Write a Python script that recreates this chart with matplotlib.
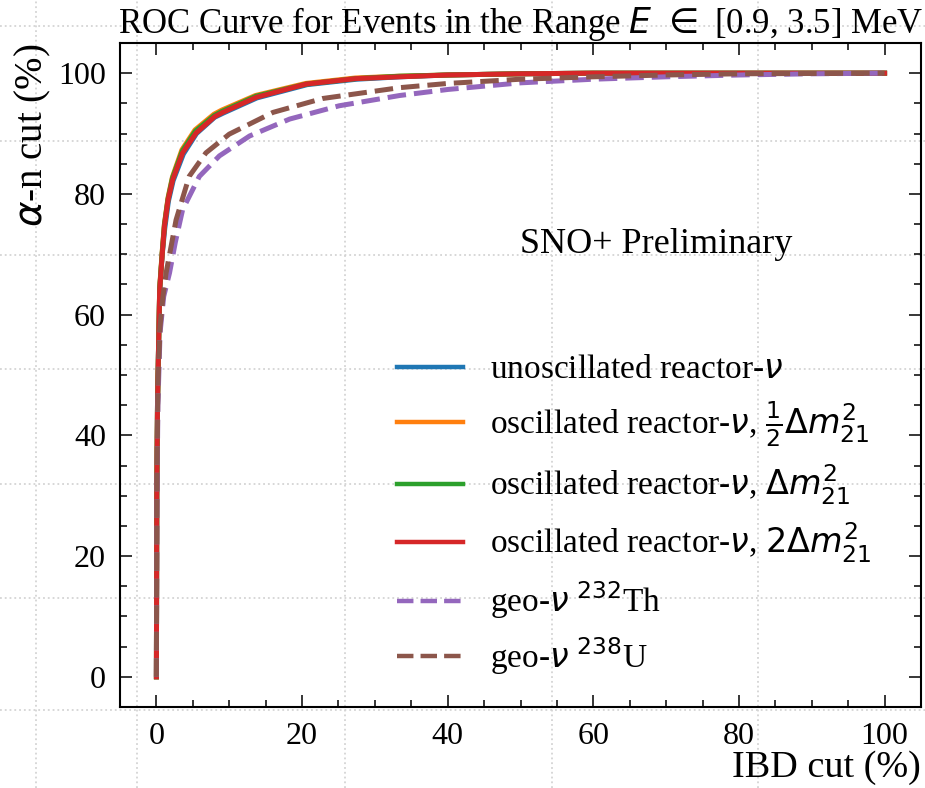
import matplotlib
matplotlib.use('Agg')
import matplotlib.pyplot as plt
import numpy as np

plt.rcParams.update({
    'font.family': 'serif',
    'font.serif': ['Liberation Serif', 'DejaVu Serif'],
    'mathtext.fontset': 'dejavusans',
    'font.size': 23,
    'axes.linewidth': 1.5,
    'xtick.direction': 'in',
    'ytick.direction': 'in',
    'xtick.top': True,
    'ytick.right': True,
    'xtick.minor.visible': True,
    'ytick.minor.visible': True,
    'xtick.major.size': 8.5,
    'ytick.major.size': 8.5,
    'xtick.minor.size': 5,
    'ytick.minor.size': 5,
    'xtick.major.width': 1.1,
    'ytick.major.width': 1.1,
    'xtick.minor.width': 1.1,
    'ytick.minor.width': 1.1,
})

# ── ROC curves (IBD cut %, alpha-n cut %) ─────────────────────
ibd_unosc  = [0, 0.05, 0.15, 0.3, 0.45, 0.8, 1.15, 1.65, 2.3, 3.7, 5.5, 8.0, 9.2, 13.8, 20.7, 27.5, 33.5, 40, 50, 60, 100]
an_unosc   = [0, 30, 45, 55, 64, 70, 74.3, 78.8, 82.2, 86.6, 90.0, 92.7, 93.4, 95.9, 98.1, 99.0, 99.4, 99.7, 99.9, 100, 100]

ibd_half   = [0, 0.05, 0.15, 0.3, 0.45, 0.8, 1.1, 1.6, 2.2, 3.5, 5.3, 7.9, 9.0, 13.6, 20.5, 27.3, 33.3, 40, 50, 60, 100]
an_half    = [0, 30, 45, 55, 64.5, 70.5, 75.0, 79.4, 82.8, 87.3, 90.6, 93.2, 93.9, 96.3, 98.3, 99.2, 99.5, 99.7, 99.9, 100, 100]

ibd_dm     = [0, 0.05, 0.15, 0.3, 0.45, 0.8, 1.1, 1.6, 2.2, 3.55, 5.35, 7.95, 9.05, 13.7, 20.6, 27.4, 33.4, 40, 50, 60, 100]
an_dm      = [0, 30, 45, 55, 64.3, 70.3, 74.9, 79.2, 82.6, 87.1, 90.4, 93.0, 93.7, 96.2, 98.2, 99.1, 99.5, 99.7, 99.9, 100, 100]

ibd_2dm    = [0, 0.05, 0.15, 0.3, 0.45, 0.8, 1.1, 1.6, 2.25, 3.6, 5.45, 8.0, 9.1, 13.7, 20.6, 27.4, 33.4, 40, 50, 60, 100]
an_2dm     = [0, 30, 45, 55, 64.1, 70, 74.6, 79.0, 82.4, 86.8, 90.1, 92.8, 93.5, 96.0, 98.2, 99.1, 99.4, 99.7, 99.9, 100, 100]

ibd_th     = [0, 0.05, 0.2, 0.5, 1.0, 1.8, 2.6, 3.6, 5.9, 8.65, 12.8, 18.3, 25.1, 33.4, 40, 50, 60, 70, 80, 90, 100]
an_th      = [0, 25, 45, 57, 63, 66.9, 72, 77.4, 82.9, 86.3, 89.6, 92.4, 94.6, 96.3, 97.3, 98.4, 99.0, 99.4, 99.7, 99.9, 100]

ibd_u      = [0, 0.05, 0.2, 0.5, 0.9, 1.33, 2.7, 4.5, 6.8, 10.0, 16.0, 22.8, 33.4, 40, 50, 60, 70, 80, 100]
an_u       = [0, 28, 48, 58, 63, 66.9, 75.7, 82.9, 86.8, 89.9, 93.5, 95.8, 97.6, 98.3, 99.0, 99.4, 99.7, 99.9, 100]

labels = [
    r'unoscillated reactor-$\nu$',
    r'oscillated reactor-$\nu$, $\frac{1}{2}\Delta m^2_{21}$',
    r'oscillated reactor-$\nu$, $\Delta m^2_{21}$',
    r'oscillated reactor-$\nu$, $2\Delta m^2_{21}$',
    r'geo-$\nu$ $^{232}$Th',
    r'geo-$\nu$ $^{238}$U',
]
colors = ['#1f77b4', '#ff7f0e', '#2ca02c', '#d62728', '#9467bd', '#8c564b']
styles = ['-', '-', '-', '-', '--', '--']

# light dotted page grid behind the plot (pixel positions)
BG_GRID_X = [36, 137, 345, 552, 758]
BG_GRID_Y = [26, 141, 255, 369, 484, 598, 710]

W, H = 925, 788
fig = plt.figure(figsize=(W / 100, H / 100), dpi=100)

bg = fig.add_axes([0, 0, 1, 1], zorder=0)
bg.set_xlim(0, W)
bg.set_ylim(H, 0)
bg.set_xticks(BG_GRID_X)
bg.set_yticks(BG_GRID_Y)
bg.minorticks_off()
bg.tick_params(which='both', length=0, labelbottom=False, labelleft=False,
               top=False, right=False)
bg.grid(True, linestyle=':', color='#d4d4d4', linewidth=1.3)
for s in bg.spines.values():
    s.set_visible(False)
bg.patch.set_visible(False)

ax = fig.add_axes([120 / W, 1 - 707 / H, 801 / W, 664 / H], zorder=1)
ax.patch.set_alpha(0)

series = [(ibd_unosc, an_unosc), (ibd_half, an_half), (ibd_dm, an_dm),
          (ibd_2dm, an_2dm), (ibd_th, an_th), (ibd_u, an_u)]
for (xs, ys), lab, c, ls in zip(series, labels, colors, styles):
    ax.plot(xs, ys, ls, color=c, lw=3.6, label=lab)

ax.set_xlim(-5, 105)
ax.set_ylim(-5, 105)
ax.set_xticks(np.arange(0, 101, 20))
ax.set_yticks(np.arange(0, 101, 20))
ax.set_xticks(np.arange(0, 101, 5), minor=True)
ax.set_yticks(np.arange(0, 101, 5), minor=True)
ax.tick_params(axis='x', which='major', pad=11, labelsize=23)
ax.tick_params(axis='y', which='major', pad=10, labelsize=23)

ax.set_xlabel('IBD cut (%)', fontsize=27.5, loc='right', labelpad=-1)
ax.set_ylabel(r'$\alpha$-n cut (%)', fontsize=28, loc='top', labelpad=4)
ax.set_title(r'ROC Curve for Events in the Range $E\ \in$ [0.9, 3.5] MeV',
             fontsize=25, pad=4)

ax.text(68.7, 71.6, 'SNO+ Preliminary', fontsize=26, ha='center', va='center')

leg = ax.legend(frameon=False, fontsize=24, loc='lower left',
                bbox_to_anchor=(0.308, 0.0), handlelength=2.0,
                labelspacing=0.42)
for h in leg.get_lines():
    h.set_linewidth(3.2)

fig.savefig('out.png', dpi=100)
